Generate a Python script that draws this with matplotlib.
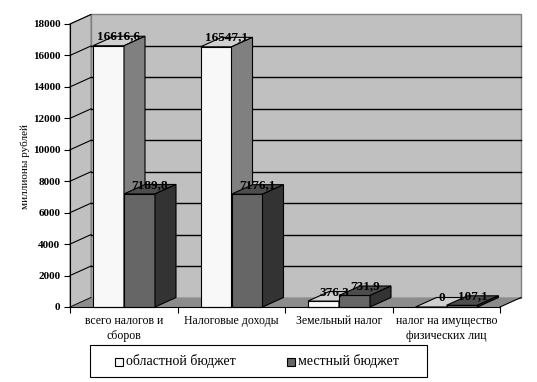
import matplotlib
matplotlib.use("Agg")
import matplotlib.pyplot as plt
from matplotlib.patches import Polygon, Rectangle
import numpy as np

categories = ["всего налогов и\nсборов", "Налоговые доходы", "Земельный налог",
              "налог на имущество\nфизических лиц"]
regional = [16616.6, 16547.1, 376.3, 0.0]
local = [7189.8, 7176.1, 731.9, 107.1]
series_names = ["областной бюджет", "местный бюджет"]
yticks = [0, 2000, 4000, 6000, 8000, 10000, 12000, 14000, 16000, 18000]
ylabel = "миллионы рублей"

plt.rcParams['font.family'] = ['Liberation Serif', 'DejaVu Serif']

W, H = 537, 382
fig = plt.figure(figsize=(W / 100, H / 100), dpi=100)
fig.patch.set_facecolor('white')

x0, x1, ytop, ybot = 70, 500, 24, 307
ax = fig.add_axes([x0 / W, 1 - ybot / H, (x1 - x0) / W, (ybot - ytop) / H])
ncat = len(categories)
ymax = 18000
ax.set_xlim(0, ncat)
ax.set_ylim(0, ymax)
ax.patch.set_visible(False)

px_x = ncat / (x1 - x0)
px_y = ymax / (ybot - ytop)
ddx = 21 * px_x
ddy = 9.5 * px_y

wall = '#C0C0C0'
floor_c = '#8C8C8C'
# back wall
ax.add_patch(Rectangle((ddx, ddy), ncat, ymax, facecolor=wall, edgecolor='#808080',
                       lw=1, zorder=0, clip_on=False))
# left wall
ax.add_patch(Polygon([(0, 0), (ddx, ddy), (ddx, ymax + ddy), (0, ymax)], closed=True,
                     facecolor=wall, edgecolor='#808080', lw=0.8, zorder=0.1, clip_on=False))
# gridlines
for v in yticks[1:]:
    if v < ymax:
        ax.plot([ddx, ncat + ddx], [v + ddy, v + ddy], color='black', lw=1, zorder=0.5, clip_on=False)
    ax.plot([0, ddx], [v, v + ddy], color='black', lw=0.8, zorder=0.5, clip_on=False)
# floor
ax.add_patch(Polygon([(0, 0), (ncat, 0), (ncat + ddx, ddy), (ddx, ddy)], closed=True,
                     facecolor=floor_c, edgecolor='none', zorder=0.6, clip_on=False))
ax.plot([ncat, ncat + ddx], [0, ddy], color='black', lw=0.8, zorder=0.7, clip_on=False)
ax.plot([0, ddx], [0, ddy], color='black', lw=0.6, zorder=0.7, clip_on=False)

gap = 23 / 107.5
bw = 31 / 107.5
styles = [
    dict(front='#F8F8F8', top='#D0D0D0', side='#808080'),
    dict(front='#666666', top='#4D4D4D', side='#333333'),
]


def bar3d(xl, v, st):
    ax.bar(xl, v, width=bw, bottom=0, align='edge', color=st['front'], edgecolor='black',
           linewidth=0.8, zorder=2, clip_on=False)
    ax.add_patch(Polygon([(xl, v), (xl + bw, v), (xl + bw + ddx, v + ddy), (xl + ddx, v + ddy)],
                         closed=True, facecolor=st['top'], edgecolor='black', lw=0.8,
                         zorder=2, clip_on=False))
    ax.add_patch(Polygon([(xl + bw, 0), (xl + bw + ddx, ddy), (xl + bw + ddx, v + ddy), (xl + bw, v)],
                         closed=True, facecolor=st['side'], edgecolor='black', lw=0.8,
                         zorder=2, clip_on=False))


def fmt(v):
    if v == 0:
        return "0"
    return f"{v:.1f}".replace('.', ',')


for i in range(ncat):
    for j, vals in enumerate([regional, local]):
        xl = i + gap + j * bw
        bar3d(xl, vals[i], styles[j])
for i in range(ncat):
    for j, vals in enumerate([regional, local]):
        xl = i + gap + j * bw
        v = vals[i]
        ax.text(xl + bw / 2 + ddx / 2, v + ddy / 2 - 1.5 * px_y, fmt(v), ha='center', va='bottom',
                fontsize=9.5, fontweight='bold', zorder=5, clip_on=False)

for s in ['top', 'right']:
    ax.spines[s].set_visible(False)
for s in ['left', 'bottom']:
    ax.spines[s].set_color('black')
    ax.spines[s].set_linewidth(0.8)
    ax.spines[s].set_zorder(3)

ax.set_yticks(yticks)
ax.set_yticklabels([str(t) for t in yticks], fontsize=8, fontweight='bold')
ax.set_xticks(np.arange(ncat + 1))
ax.set_xticklabels([])
ax.set_xticks(np.arange(ncat) + 0.5, minor=True)
ax.set_xticklabels(categories, minor=True, fontsize=8.5, linespacing=1.3)
ax.tick_params(axis='x', which='minor', length=0, pad=6)
ax.tick_params(axis='x', which='major', length=4, width=0.8, direction='out')
ax.tick_params(axis='y', length=4, width=0.8, direction='out', pad=3)

fig.text(25 / W, 1 - 166 / H, ylabel, rotation=90, ha='center', va='center', fontsize=8)

# legend (drawn manually in figure pixel coordinates)
def fx(px):
    return px / W


def fy(py):
    return 1 - py / H


fig.patches.append(Rectangle((fx(90), fy(377)), fx(427) - fx(90), fy(345) - fy(377),
                             transform=fig.transFigure, facecolor='white', edgecolor='black',
                             lw=0.8, zorder=5))
leg_x = [115, 287]
for k, name in enumerate(series_names):
    fig.patches.append(Rectangle((fx(leg_x[k]), fy(366)), 8 / W, 8 / H,
                                 transform=fig.transFigure, facecolor=styles[k]['front'],
                                 edgecolor='black', lw=0.8, zorder=6))
    fig.text(fx(leg_x[k] + 11), fy(361.5), name, ha='left', va='center', fontsize=10, zorder=7)

fig.savefig("out.png", dpi=100, facecolor='white')
